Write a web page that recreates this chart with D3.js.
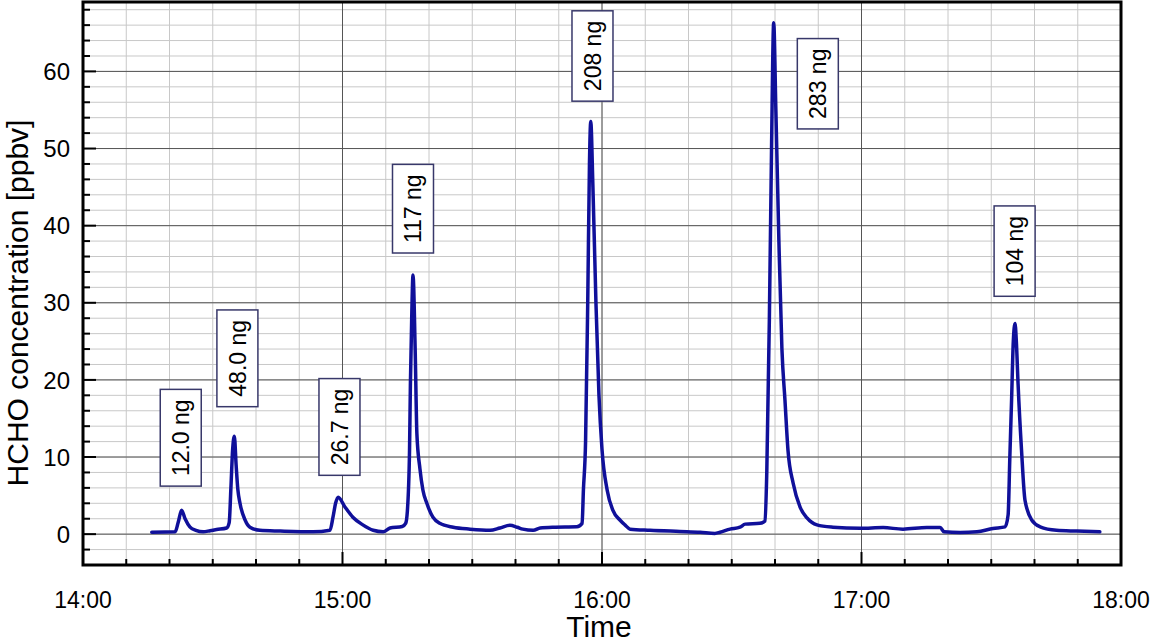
<html>
<head>
<script src="https://d3js.org/d3.v7.min.js"></script>
<style>
body { margin: 0; background: white; }
text { font-family: Arial, "Liberation Sans", sans-serif; }
</style>
</head>
<body>
<svg id="chart" width="1150" height="643"></svg>
<script>
// minutes after 14:00 and HCHO concentration [ppbv]
var minutes = [15.9, 21.3, 22.0, 22.8, 23.6, 24.7, 26.1, 27.8, 29.4, 30.9, 33.2,
  33.8, 34.2, 34.6, 35.0, 35.4, 35.8, 36.3, 37.5, 38.6, 40.9, 45.6, 53.2,
  57.1, 57.8, 58.4, 59.0, 60.6, 62.4, 64.7, 67.1, 69.4, 71.0, 73.8, 74.6,
  75.0, 75.5, 75.7, 76.0, 76.3, 76.8, 77.2, 77.9, 78.6, 79.5, 80.9, 82.5,
  85.6, 89.5, 94.1, 96.4, 98.7, 100.4, 101.7, 104.1, 105.7, 108.7, 114.2,
  115.4, 115.7, 116.2, 116.7, 117.1, 117.4, 117.9, 118.6, 119.3, 120.0,
  121.2, 122.5, 124.2, 125.3, 126.5, 131.1, 138.0, 142.7, 146.1, 147.3,
  149.6, 151.9, 153.1, 156.5, 157.7, 158.1, 158.7, 159.2, 159.7, 160.2,
  160.9, 161.6, 162.3, 163.0, 164.2, 165.8, 167.4, 169.7, 173.4, 179.7,
  185.0, 189.6, 195.1, 198.2, 199.1, 202.8, 206.7, 210.4, 213.2, 213.9,
  214.3, 214.7, 215.1, 215.5, 215.8, 216.2, 217.0, 217.8, 219.4, 221.3,
  225.1, 229.8, 235.1];
var ppbv = [0.25, 0.3, 1.5, 3.1, 2.0, 0.95, 0.5, 0.3, 0.45, 0.6, 0.8,
  1.5, 6.0, 11.0, 12.7, 9.0, 5.8, 4.0, 1.8, 0.9, 0.5, 0.4, 0.3,
  0.5, 2.2, 4.0, 4.8, 3.5, 2.2, 1.2, 0.5, 0.3, 0.8, 1.0, 1.4,
  3.0, 10.9, 19.5, 28.0, 33.6, 24.0, 13.0, 8.5, 5.7, 4.0, 2.2, 1.4,
  0.9, 0.65, 0.5, 0.8, 1.15, 0.9, 0.65, 0.5, 0.8, 0.9, 0.95,
  1.4, 5.7, 12.0, 30.0, 48.0, 53.5, 45.0, 30.0, 18.0, 11.0,
  5.7, 3.1, 1.8, 1.2, 0.65, 0.5, 0.35, 0.25, 0.1, 0.25,
  0.65, 0.9, 1.3, 1.4, 1.7, 8.0, 28.0, 50.0, 66.3, 55.0,
  38.0, 24.0, 17.4, 10.9, 6.6, 3.5, 2.1, 1.2, 0.9, 0.75,
  0.85, 0.65, 0.85, 0.85, 0.3, 0.2, 0.3, 0.74, 0.95, 2.5,
  10.0, 17.4, 25.0, 27.3, 25.0, 19.5, 10.9, 4.4, 1.8, 0.95,
  0.5, 0.4, 0.3];

// injected mass annotations (box centre in data units)
var labelTexts = ["12.0 ng", "48.0 ng", "26.7 ng", "117 ng", "208 ng", "283 ng", "104 ng"];
var labelMinutes = [22.6, 35.7, 59.3, 76.3, 117.8, 169.9, 215.4];
var labelValues = [12.5, 22.8, 13.9, 42.2, 62.0, 58.4, 36.7];

var yTicks = [0, 10, 20, 30, 40, 50, 60];

function draw() {
  var svg = d3.select("#chart");
  var pL = 83, pR = 1121, pT = 2, pB = 565;

  function toDate(m) { return new Date(2000, 0, 1, 14, 0, 0, Math.round(m * 60000)); }

  var x = d3.scaleTime()
    .domain([new Date(2000, 0, 1, 14, 0), new Date(2000, 0, 1, 18, 0)])
    .range([pL, pR]);
  var y = d3.scaleLinear().domain([-4, 69]).range([pB, pT]);

  var minorX = x.ticks(d3.timeMinute.every(10));
  var majorX = x.ticks(d3.timeHour.every(1));
  var minorY = d3.range(-4, 69, 2);

  // grid
  var grid = svg.append("g");
  grid.selectAll(".vminor").data(minorX).enter().append("line")
    .attr("x1", d => x(d)).attr("x2", d => x(d)).attr("y1", pT).attr("y2", pB)
    .attr("stroke", "#c8c8c8").attr("stroke-width", 1);
  grid.selectAll(".hminor").data(minorY).enter().append("line")
    .attr("y1", d => y(d)).attr("y2", d => y(d)).attr("x1", pL).attr("x2", pR)
    .attr("stroke", "#c8c8c8").attr("stroke-width", 1);
  grid.selectAll(".vmajor").data(majorX).enter().append("line")
    .attr("x1", d => x(d)).attr("x2", d => x(d)).attr("y1", pT).attr("y2", pB)
    .attr("stroke", "#555").attr("stroke-width", 1);
  grid.selectAll(".hmajor").data(yTicks).enter().append("line")
    .attr("y1", d => y(d)).attr("y2", d => y(d)).attr("x1", pL).attr("x2", pR)
    .attr("stroke", "#555").attr("stroke-width", 1);

  // data
  var pts = minutes.map((m, i) => [toDate(m), ppbv[i]]);
  var line = d3.line().x(d => x(d[0])).y(d => y(d[1])).curve(d3.curveMonotoneX);
  svg.append("path").datum(pts)
    .attr("d", line)
    .attr("fill", "none")
    .attr("stroke", "#10109a")
    .attr("stroke-width", 3.5)
    .attr("stroke-linejoin", "round")
    .attr("stroke-linecap", "round");

  // annotation boxes
  labelTexts.forEach(function(t, i) {
    var cx = x(toDate(labelMinutes[i])), cy = y(labelValues[i]);
    var g = svg.append("g").attr("transform", "translate(" + cx + "," + cy + ")");
    var rect = g.append("rect").attr("fill", "white").attr("stroke", "#38386a").attr("stroke-width", 1.5);
    var txt = g.append("text")
      .attr("transform", "rotate(-90)")
      .attr("text-anchor", "middle")
      .attr("dy", "0.36em")
      .attr("font-size", 23)
      .text(t);
    var len = txt.node().getComputedTextLength() + 20;
    rect.attr("x", -20.5).attr("y", -len / 2).attr("width", 41).attr("height", len);
  });

  // ticks (inward)
  var ax = svg.append("g");
  ax.selectAll(".ytm").data(minorY).enter().append("line")
    .attr("x1", pL).attr("x2", d => pL + (d % 10 === 0 ? 13 : 7))
    .attr("y1", d => y(d)).attr("y2", d => y(d))
    .attr("stroke", "black").attr("stroke-width", 2);
  ax.selectAll(".xtm").data(minorX).enter().append("line")
    .attr("y1", pB).attr("y2", d => pB - (d.getMinutes() === 0 ? 13 : 6))
    .attr("x1", d => x(d)).attr("x2", d => x(d))
    .attr("stroke", "black").attr("stroke-width", 2);

  // frame
  svg.append("rect").attr("x", pL).attr("y", pT).attr("width", pR - pL).attr("height", pB - pT)
    .attr("fill", "none").attr("stroke", "black").attr("stroke-width", 3);

  // tick labels
  svg.selectAll(".ylab").data(yTicks).enter().append("text")
    .attr("x", pL - 13).attr("y", d => y(d)).attr("dy", "0.36em")
    .attr("text-anchor", "end").attr("font-size", 24).text(d => d);
  svg.selectAll(".xlab").data(majorX).enter().append("text")
    .attr("x", d => x(d)).attr("y", 608)
    .attr("text-anchor", "middle").attr("font-size", 23).text(d3.timeFormat("%H:%M"));

  // axis titles
  svg.append("text").attr("x", 599).attr("y", 637)
    .attr("text-anchor", "middle").attr("font-size", 30).text("Time");
  svg.append("text").attr("transform", "translate(28,303) rotate(-90)")
    .attr("text-anchor", "middle").attr("font-size", 30).text("HCHO concentration [ppbv]");
}
draw();
</script>
</body>
</html>
